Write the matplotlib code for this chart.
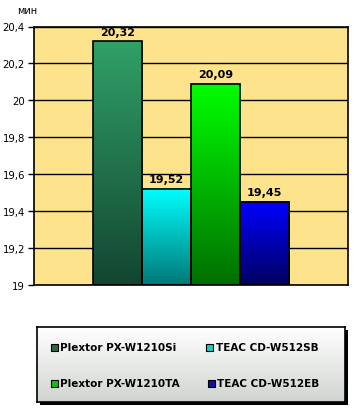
import matplotlib
matplotlib.use("Agg")
import matplotlib.pyplot as plt
import numpy as np
from matplotlib.colors import LinearSegmentedColormap
from matplotlib.patches import Rectangle

categories = ["Plextor PX-W1210Si", "TEAC CD-W512SB", "Plextor PX-W1210TA", "TEAC CD-W512EB"]
values = [20.32, 19.52, 20.09, 19.45]
value_labels = ["20,32", "19,52", "20,09", "19,45"]
yticks = [19.0, 19.2, 19.4, 19.6, 19.8, 20.0, 20.2, 20.4]
ytick_labels = ["19", "19,2", "19,4", "19,6", "19,8", "20", "20,2", "20,4"]
top_colors = ["#30a068", "#00ffff", "#00ff00", "#0000ff"]
bottom_colors = ["#124530", "#007878", "#006e00", "#000060"]
legend_colors = ["#2a6a48", "#20c8c8", "#10c010", "#1010a0"]

fig = plt.figure(figsize=(3.54, 4.10), dpi=100)
ax = fig.add_axes([34/354, 1 - 286/410, 314/354, (286 - 27.5)/410])
ax.set_facecolor("#fde48c")

x = np.arange(len(values))
bars = ax.bar(x, [v - 19 for v in values], bottom=19, width=1.0,
              color="none", edgecolor="black", linewidth=1.2, zorder=3)
for b, tc, bc in zip(bars, top_colors, bottom_colors):
    cmap = LinearSegmentedColormap.from_list("g", [bc, tc])
    grad = np.linspace(0, 1, 256).reshape(-1, 1)
    x0, y0, w, h = b.get_x(), b.get_y(), b.get_width(), b.get_height()
    ax.imshow(grad, extent=[x0, x0 + w, y0, y0 + h], origin="lower",
              aspect="auto", cmap=cmap, zorder=2)

ax.set_xlim(-1.7, 4.7)
ax.set_ylim(19, 20.4)
ax.set_yticks(yticks)
ax.set_yticklabels(ytick_labels, fontsize=7.3)
ax.set_xticks([])
ax.yaxis.grid(True, color="black", linewidth=1.0, zorder=1)
ax.set_axisbelow(True)
ax.tick_params(axis="y", length=4, width=1, pad=2.5)
for s in ax.spines.values():
    s.set_linewidth(1.2)

for xi, v, lbl in zip(x, values, value_labels):
    ax.text(xi, v + 0.025, lbl, ha="center", va="bottom", fontsize=8,
            fontweight="bold", zorder=4)

fig.text(17/354, 1 - 11/410, "мин", fontsize=7, ha="left", va="center")

# legend box
lx0, ly0, lw, lh = 37/354, 1 - 403/410, 308/354, 75/410
shadow = Rectangle((lx0 + 3/354, ly0 - 3/410), lw, lh, transform=fig.transFigure,
                   facecolor="black", edgecolor="none", zorder=-1)
fig.patches.append(shadow)
lax = fig.add_axes([lx0, ly0, lw, lh])
lax.set_zorder(2)
lgrad = np.linspace(0, 1, 256).reshape(-1, 1)
lax.imshow(lgrad, extent=[0, 1, 0, 1], origin="lower", aspect="auto",
           cmap=LinearSegmentedColormap.from_list("lg", ["#d0d4d0", "#ffffff"]))
lax.set_xlim(0, 1)
lax.set_ylim(0, 1)
lax.set_xticks([])
lax.set_yticks([])
for s in lax.spines.values():
    s.set_linewidth(1.2)

pos = [(0.045, 0.73), (0.55, 0.73), (0.045, 0.25), (0.556, 0.25)]
for (px, py), c, name in zip(pos, legend_colors, categories):
    lax.add_patch(Rectangle((px, py - 0.045), 0.022, 0.09, facecolor=c,
                            edgecolor="black", linewidth=0.8))
    lax.text(px + 0.03, py, name, fontsize=7.5, fontweight="bold", va="center", ha="left")

fig.savefig("out.png", dpi=100)
